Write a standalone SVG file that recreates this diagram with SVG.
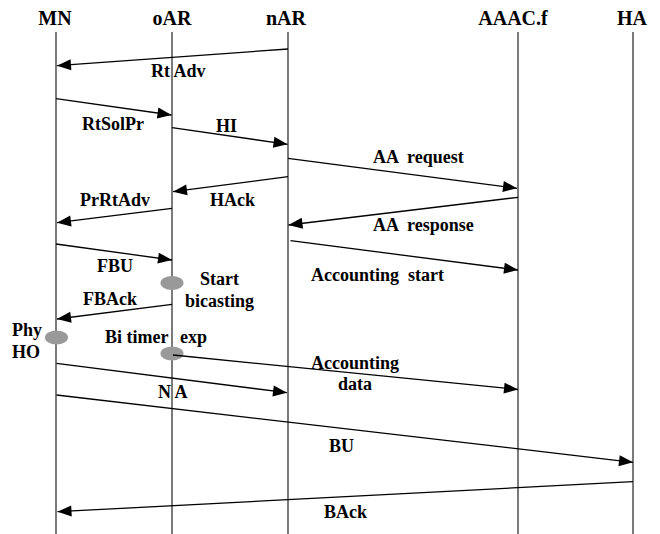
<svg xmlns="http://www.w3.org/2000/svg" width="660" height="534" viewBox="0 0 660 534">
<style>
.hd{font-family:"Liberation Serif","Times New Roman",serif;font-weight:bold;font-size:20px;fill:#000;text-anchor:middle}
.lb{font-family:"Liberation Serif","Times New Roman",serif;font-weight:bold;font-size:18px;fill:#000}
.life{stroke:#333;stroke-width:1.3;fill:none}
.msg{stroke:#000;stroke-width:1.3;fill:none;marker-end:url(#ah)}
.dot{fill:#999}
</style>
<defs>
<marker id="ah" markerUnits="userSpaceOnUse" markerWidth="16" markerHeight="12" refX="15" refY="6" orient="auto">
<path d="M1,0.5 L15,6 L1,11.5 Z" fill="#000"/>
</marker>
</defs>
<rect width="660" height="534" fill="#fff"/>
<g id="MN"><text class="hd" x="55" y="25">MN</text><line class="life" x1="56" y1="32" x2="56" y2="534"/></g>
<g id="oAR"><text class="hd" x="172" y="25">oAR</text><line class="life" x1="172" y1="32" x2="172" y2="534"/></g>
<g id="nAR"><text class="hd" x="286" y="25">nAR</text><line class="life" x1="288" y1="32" x2="288" y2="534"/></g>
<g id="AAACf"><text class="hd" x="513" y="25">AAAC.f</text><line class="life" x1="518" y1="32" x2="518" y2="534"/></g>
<g id="HA"><text class="hd" x="632" y="25">HA</text><line class="life" x1="633" y1="32" x2="633" y2="534"/></g>
<g id="events">
<ellipse class="dot" cx="172" cy="283" rx="11.5" ry="7"/>
<ellipse class="dot" cx="56.5" cy="337.5" rx="11.5" ry="7"/>
<ellipse class="dot" cx="172" cy="353.5" rx="11.5" ry="7"/>
<text class="lb" x="200" y="285">Start</text>
<text class="lb" x="185" y="307">bicasting</text>
<text class="lb" x="12" y="336">Phy</text>
<text class="lb" x="12" y="357.5">HO</text>
<text class="lb" x="105" y="342.5">Bi timer</text>
<text class="lb" x="180" y="342.5">exp</text>
</g>
<g id="connectors">
<line class="msg" x1="288" y1="49" x2="57" y2="65.7"/>
<line class="msg" x1="56" y1="98.7" x2="171.5" y2="115"/>
<line class="msg" x1="172" y1="127.7" x2="287.5" y2="144.3"/>
<line class="msg" x1="288" y1="158.3" x2="517" y2="188.3"/>
<line class="msg" x1="288" y1="176.7" x2="173" y2="191.7"/>
<line class="msg" x1="172" y1="208.3" x2="57" y2="222.7"/>
<line class="msg" x1="518" y1="197.3" x2="288.5" y2="225"/>
<line class="msg" x1="56" y1="244" x2="172" y2="260"/>
<line class="msg" x1="290.5" y1="240.7" x2="518" y2="270"/>
<line class="msg" x1="172" y1="304.3" x2="57" y2="319"/>
<line class="msg" x1="173" y1="355" x2="518" y2="389.5"/>
<line class="msg" x1="56.5" y1="363.3" x2="287" y2="392.7"/>
<line class="msg" x1="56.5" y1="395" x2="633" y2="462.3"/>
<line class="msg" x1="633" y1="481.7" x2="57.5" y2="511.7"/>
</g>
<g id="labels">
<text class="lb" x="151" y="77.3">Rt Adv</text>
<text class="lb" x="82" y="130">RtSolPr</text>
<text class="lb" x="216" y="131.5">HI</text>
<text class="lb" x="373" y="163" xml:space="preserve">AA  request</text>
<text class="lb" x="210" y="206">HAck</text>
<text class="lb" x="80" y="206">PrRtAdv</text>
<text class="lb" x="373" y="231" xml:space="preserve">AA  response</text>
<text class="lb" x="97" y="271.5">FBU</text>
<text class="lb" x="311" y="281" xml:space="preserve">Accounting  start</text>
<text class="lb" x="83" y="305">FBAck</text>
<text class="lb" x="311" y="369">Accounting</text>
<text class="lb" x="338" y="390">data</text>
<text class="lb" x="158" y="397.7">N A</text>
<text class="lb" x="329" y="451.7">BU</text>
<text class="lb" x="324" y="518.3">BAck</text>
</g>
</svg>
